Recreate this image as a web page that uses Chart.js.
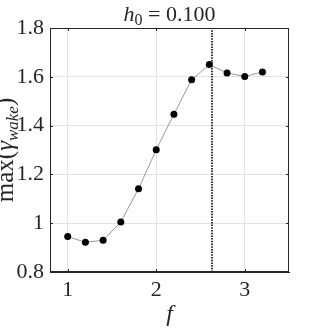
<!DOCTYPE html>
<html>
<head>
<meta charset="utf-8">
<script src="https://cdn.jsdelivr.net/npm/chart.js@4/dist/chart.umd.min.js"></script>
<style>html,body{margin:0;padding:0;background:#fff}</style>
</head>
<body>
<canvas id="wakeChart" width="321" height="331"></canvas>
<script>
// data
const fValues = [1.0, 1.2, 1.4, 1.6, 1.8, 2.0, 2.2, 2.4, 2.6, 2.8, 3.0, 3.2];
const gammaMax = [0.945, 0.922, 0.930, 1.005, 1.141, 1.301, 1.447, 1.588, 1.650, 1.616, 1.601, 1.620];
const xTicks = [1, 2, 3];
const yTicks = [0.8, 1, 1.2, 1.4, 1.6, 1.8];
const markerF = [2.63, 2.63];
const markerY = [0.8, 1.8];

const serif = "'Liberation Serif', 'DejaVu Serif', serif";
const ink = '#262626';

// title, axis labels, box and inward ticks (matlab style)
const decorations = {
  id: 'decorations',
  afterDraw(chart) {
    const { ctx, chartArea: a, scales } = chart;
    ctx.save();
    ctx.strokeStyle = ink;
    ctx.lineWidth = 1;
    ctx.strokeRect(a.left + 0.5, a.top + 0.5, a.right - a.left - 1, a.bottom - a.top - 1);
    ctx.beginPath();
    yTicks.forEach(v => {
      const y = Math.round(scales.y.getPixelForValue(v)) + 0.5;
      ctx.moveTo(a.left, y); ctx.lineTo(a.left + 3, y);
      ctx.moveTo(a.right, y); ctx.lineTo(a.right - 3, y);
    });
    xTicks.forEach(v => {
      const x = Math.round(scales.x.getPixelForValue(v)) + 0.5;
      ctx.moveTo(x, a.bottom); ctx.lineTo(x, a.bottom - 3);
      ctx.moveTo(x, a.top); ctx.lineTo(x, a.top + 3);
    });
    ctx.stroke();

    ctx.fillStyle = ink;
    ctx.textBaseline = 'alphabetic';
    const cx = (a.left + a.right) / 2;

    // title h_0 = 0.100
    drawParts(ctx, [
      { t: 'h', f: 'italic 22px ' + serif, dy: 0 },
      { t: '0', f: '16px ' + serif, dy: 4 },
      { t: ' = 0.100', f: '22px ' + serif, dy: 0 }
    ], cx, 21);

    // x label
    ctx.font = 'italic 24px ' + serif;
    ctx.textAlign = 'center';
    ctx.fillText('f', cx, 321);

    // y label max(gamma_wake), partly clipped at the left edge like the original
    ctx.translate(13, (a.top + a.bottom) / 2);
    ctx.rotate(-Math.PI / 2);
    drawParts(ctx, [
      { t: 'max(', f: '25px ' + serif, dy: 0 },
      { t: 'γ', f: 'italic 25px ' + serif, dy: 0 },
      { t: 'wake', f: 'italic 17px ' + serif, dy: 5 },
      { t: ')', f: '25px ' + serif, dy: 0 }
    ], 0, 0);
    ctx.restore();
  }
};

function drawParts(ctx, parts, cx, baseY) {
  ctx.textAlign = 'left';
  let total = 0;
  parts.forEach(p => { ctx.font = p.f; p.w = ctx.measureText(p.t).width; total += p.w; });
  let x = cx - total / 2;
  parts.forEach(p => { ctx.font = p.f; ctx.fillText(p.t, x, baseY + p.dy); x += p.w; });
}

const ctx = document.getElementById('wakeChart').getContext('2d');
new Chart(ctx, {
  type: 'line',
  data: {
    datasets: [{
      data: fValues.map((f, i) => ({ x: f, y: gammaMax[i] })),
      borderColor: '#7f7f7f',
      borderWidth: 0.8,
      pointRadius: 3.5,
      pointBackgroundColor: '#000',
      pointBorderWidth: 0,
      tension: 0
    }, {
      data: markerF.map((f, i) => ({ x: f, y: markerY[i] })),
      borderColor: '#000',
      borderWidth: 1.6,
      borderDash: [1.5, 1.2],
      pointRadius: 0
    }]
  },
  options: {
    responsive: false,
    animation: false,
    layout: { padding: { top: 28, right: 32, left: 0, bottom: 0 } },
    plugins: { legend: { display: false }, tooltip: { enabled: false } },
    scales: {
      x: {
        type: 'linear', min: 0.8, max: 3.5,
        afterBuildTicks: s => { s.ticks = xTicks.map(v => ({ value: v })); },
        afterFit: s => { s.height = 59; },
        ticks: { font: { family: serif, size: 22 }, color: ink, padding: 5, maxRotation: 0 },
        grid: { color: '#e3e3e3', drawTicks: false },
        border: { color: ink }
      },
      y: {
        min: 0.8, max: 1.8,
        afterBuildTicks: s => { s.ticks = yTicks.map(v => ({ value: v })); },
        afterFit: s => { s.width = 50; },
        ticks: { font: { family: serif, size: 22 }, color: ink, padding: 6, callback: v => String(v) },
        grid: { color: '#e3e3e3', drawTicks: false },
        border: { color: ink }
      }
    }
  },
  plugins: [decorations]
});
</script>
</body>
</html>
